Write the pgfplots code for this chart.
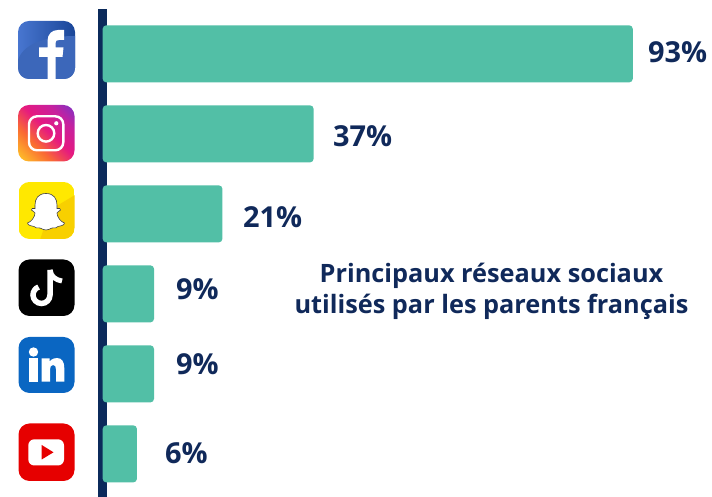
\documentclass[border=0pt]{standalone}
\usepackage{pgfplots}
\pgfplotsset{compat=1.18}
\usepackage{fontspec}
\setmainfont{Open Sans}
\definecolor{navy}{HTML}{0B2A5B}
\definecolor{txt}{HTML}{10295A}
\definecolor{teal2}{HTML}{52BFA6}
\definecolor{fbl}{RGB}{72,118,208}
\definecolor{fbd}{RGB}{26,70,152}
\definecolor{fbm}{RGB}{60,103,186}
\definecolor{snapy}{RGB}{255,232,0}
\definecolor{snapd}{RGB}{248,208,0}
\definecolor{lnk}{RGB}{10,102,194}
\definecolor{ytr}{RGB}{230,0,0}
\pgfdeclareverticalshading{ig}{100bp}{rgb(0bp)=(1,.8,.15); rgb(25bp)=(1,.8,.15); rgb(40bp)=(.98,.42,.2); rgb(52bp)=(.9,.1,.5); rgb(64bp)=(.78,.13,.62); rgb(75bp)=(.48,.2,.78); rgb(100bp)=(.48,.2,.78)}
\newcommand{\lab}[3]{\node[anchor=base west,inner sep=0pt,font=\fontsize{28.9}{29}\selectfont\bfseries,text=txt] at (#1,#2) {#3};}
\begin{document}
\begin{tikzpicture}
\useasboundingbox (0,0) rectangle (712pt,497pt);
\begin{axis}[
  at={(0pt,0pt)},anchor=south west,
  scale only axis,width=712pt,height=497pt,
  hide axis,clip=true,
  xmin=-18.02,xmax=106.9,
  ymin=-0.673,ymax=5.539,
  y dir=reverse,
]
\addplot[navy,line width=9pt,forget plot] coordinates {(0.02,-0.559)(0.02,5.541)};
\addplot[xbar,bar width=57pt,bar shift=0pt,fill=teal2,draw=none,rounded corners=3.5pt] coordinates {
 (93,0) (37,1) (21,2) (9,3) (9,4) (6,5)};
\end{axis}
\begin{scope}[x=1pt,y=-1pt,yshift=497pt]
\lab{648}{62.5}{93\%}
\lab{333}{147}{37\%}
\lab{243}{228}{21\%}
\lab{176}{300}{9\%}
\lab{176}{375}{9\%}
\lab{165}{464}{6\%}
\node[anchor=base,inner sep=0pt,font=\fontsize{25.3}{26}\selectfont\bfseries,text=txt] at (491.5,283) {Principaux réseaux sociaux};
\node[anchor=base,inner sep=0pt,font=\fontsize{25.3}{26}\selectfont\bfseries,text=txt] at (491.5,314) {utilisés par les parents français};
% Facebook
\begin{scope}
\path[rounded corners=11pt,clip] (18,21) rectangle (75,79);
\shade[left color=fbl,right color=fbd] (18,21) rectangle (75,79);
\fill[fbm] (18,79) -- (18,60) .. controls (24,42) and (50,36) .. (75,36) -- (75,79) -- cycle;
\fill[white] (47.5,79.5) -- (47.5,57) -- (39,57) -- (39,47.5) -- (47.5,47.5) -- (47.5,41) .. controls (47.5,34) and (52,30) .. (58,30) -- (64,30) -- (64,40) -- (59,40) .. controls (56.5,40) and (55.5,41) .. (55.5,43) -- (55.5,47.5) -- (63.5,47.5) -- (62.5,57) -- (55.5,57) -- (55.5,79.5) -- cycle;
\end{scope}
% Instagram
\begin{scope}
\path[rounded corners=11pt,clip] (18,105) rectangle (74.5,161.5);
\shade[shading=ig,shading angle=-45] (6,93) rectangle (86,173);
\draw[white,line width=2.4pt,rounded corners=8pt] (29,116.3) rectangle (63.3,150.3);
\draw[white,line width=2.4pt] (46,133.3) circle[radius=8.3pt];
\fill[white] (56.3,123.3) circle[radius=2.1pt];
\end{scope}
% Snapchat
\begin{scope}
\path[rounded corners=11pt,clip] (18.5,182) rectangle (74.5,239);
\fill[snapy] (18.5,182) rectangle (74.5,239);
\fill[snapd] (50,210) -- (75,195) -- (75,240) -- (40,240) -- cycle;
\filldraw[fill=white,draw=black!75,line width=.6pt] (46,193.5) .. controls (38,193.5) and (35,199) .. (35,205) -- (35,208.5) .. controls (33,208) and (31,208.5) .. (31.5,210) .. controls (32,211.5) and (35,211.5) .. (35,213) .. controls (35,217) and (31,222) .. (27.5,223) .. controls (27.5,225.5) and (32,226) .. (34,226.5) .. controls (35,229) and (37,227) .. (40,228) .. controls (42,229) and (44,230) .. (46,230) .. controls (48,230) and (50,229) .. (52,228) .. controls (55,227) and (57,229) .. (58,226.5) .. controls (60,226) and (64.5,225.5) .. (64.5,223) .. controls (61,222) and (57,217) .. (57,213) .. controls (57,211.5) and (60,211.5) .. (60.5,210) .. controls (61,208.5) and (59,208) .. (57,208.5) -- (57,205) .. controls (57,199) and (54,193.5) .. (46,193.5) -- cycle;
\end{scope}
% TikTok
\fill[black,rounded corners=11pt] (18.5,259.5) rectangle (74.5,316);
\draw[white,line width=5.5pt] (50,270) -- (50,295) arc[start angle=0,end angle=-250,radius=8.5pt];
\draw[white,line width=5pt] (50,270) .. controls (51,277) and (56,280) .. (62,281);
% LinkedIn
\fill[lnk,rounded corners=11pt] (18.5,337) rectangle (74.5,393);
\fill[white] (33.5,352) circle[radius=4.7pt];
\fill[white] (29.4,358.5) rectangle (37.7,381.7);
\fill[white] (41.7,358.5) -- (49.7,358.5) -- (49.7,361.5) .. controls (52,358.5) and (55,358) .. (57,358) .. controls (62,358) and (64.3,362) .. (64.3,368) -- (64.3,381.7) -- (56,381.7) -- (56,369.5) .. controls (56,366.5) and (55,365) .. (53,365) .. controls (51,365) and (50,367) .. (50,369.5) -- (50,381.7) -- (41.7,381.7) -- cycle;
% YouTube
\fill[ytr,rounded corners=11pt] (18.5,423.5) rectangle (74.5,481);
\fill[white,rounded corners=6pt] (28.3,439.3) rectangle (64,465.5);
\fill[ytr] (41.7,445) -- (53.5,452.3) -- (41.7,459.5) -- cycle;
\end{scope}
\end{tikzpicture}
\end{document}
